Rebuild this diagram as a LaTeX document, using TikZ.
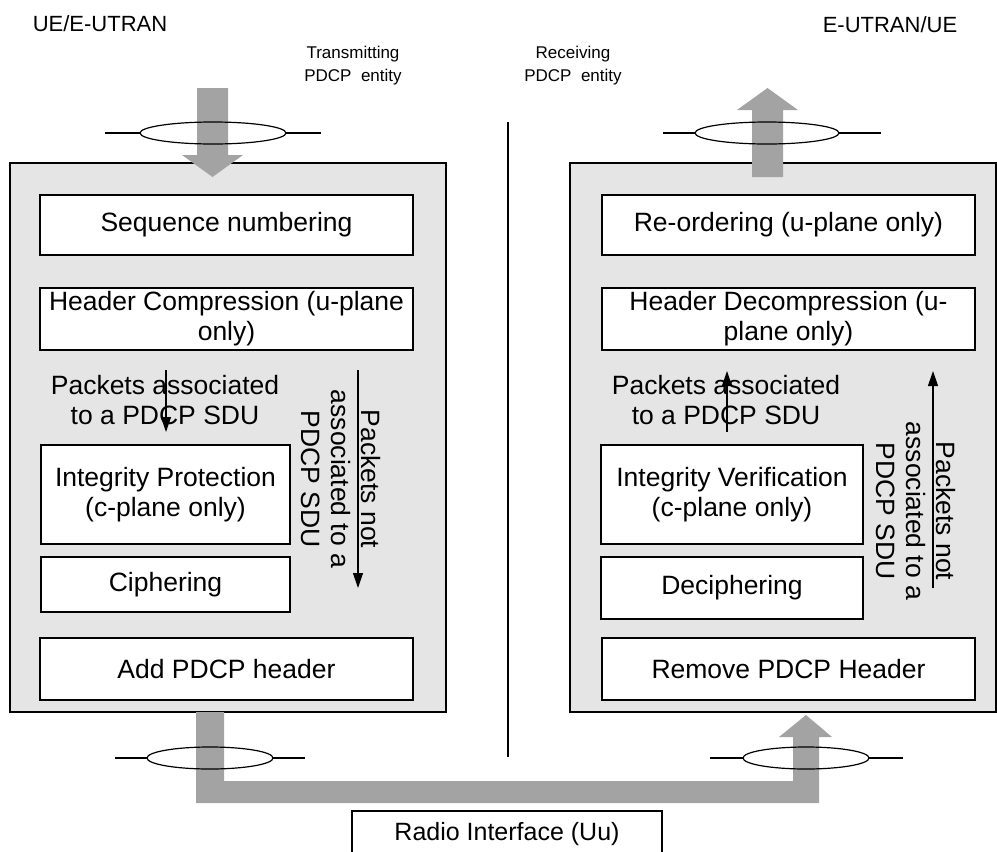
\documentclass[tikz,border=0pt]{standalone}
\usepackage{fontspec}
\setmainfont{Liberation Sans}
\usetikzlibrary{arrows.meta}
\begin{document}
\begin{tikzpicture}[x=1pt,y=-1pt,
  outer/.style={draw=black, fill=black!10, line width=1.2pt},
  blk/.style={draw=black, fill=white, line width=1.2pt, align=center, inner sep=0pt, font=\fontsize{26.5}{30}\selectfont},
  lbl/.style={align=center, inner sep=0pt, font=\fontsize{26.5}{30}\selectfont},
  hdr/.style={inner sep=0pt, font=\fontsize{22}{26}\selectfont},
  ent/.style={align=center, inner sep=0pt, font=\fontsize{17}{23}\selectfont},
  thinarrow/.style={line width=1.2pt, -{Triangle[length=15pt,width=10pt]}},
  fat/.style={fill=black!36, draw=none},
  ell/.style={draw=black, line width=1.2pt}]
\useasboundingbox (0,0) rectangle (997,852);

% outer entity boxes
\draw[outer] (10,163) rectangle (446,712);
\draw[outer] (570,163) rectangle (996,712);

% divider
\draw[line width=1.2pt] (508,122) -- (508,757);

% headers
\node[hdr] (ue) at (100,24) {UE/E-UTRAN};
\node[hdr] (eu) at (890,25) {E-UTRAN/UE};
\node[ent] (tx) at (353,66) {Transmitting\\PDCP\ \ entity};
\node[ent] (rx) at (573,66) {Receiving\\PDCP\ \ entity};

% left blocks
\node[blk, minimum width=373pt, minimum height=60pt] (seq) at (226.5,225) {Sequence numbering};
\node[blk, minimum width=373pt, minimum height=62pt] (hc) at (226.5,319) {Header Compression (u-plane\\only)};
\node[blk, minimum width=249pt, minimum height=99pt] (ip) at (165.5,494.5) {Integrity Protection\\(c-plane only)};
\node[blk, minimum width=249pt, minimum height=55pt] (ciph) at (165.5,584.5) {Ciphering};
\node[blk, minimum width=373pt, minimum height=62pt] (add) at (226.5,669) {Add PDCP header};

% right blocks
\node[blk, minimum width=373pt, minimum height=60pt] (reo) at (788.5,225) {Re-ordering (u-plane only)};
\node[blk, minimum width=373pt, minimum height=62pt] (hd) at (788.5,319) {Header Decompression (u-\\plane only)};
\node[blk, minimum width=262pt, minimum height=99pt] (iv) at (732,494.5) {Integrity Verification\\(c-plane only)};
\node[blk, minimum width=262pt, minimum height=62pt] (dec) at (732,588) {Deciphering};
\node[blk, minimum width=373pt, minimum height=62pt] (rem) at (788.5,669) {Remove PDCP Header};

% packet labels
\node[lbl] (pal) at (165,400) {Packets associated\\to a PDCP SDU};
\node[lbl] (par) at (726,400) {Packets associated\\to a PDCP SDU};
\node[lbl, rotate=-90] (pnl) at (341,479) {Packets not\\associated to a\\PDCP SDU};
\node[lbl, rotate=-90] (pnr) at (916,511) {Packets not\\associated to a\\PDCP SDU};

% thin arrows
\coordinate (a1s) at (166,370); \coordinate (a1e) at (166,432);
\coordinate (a2s) at (358,370); \coordinate (a2e) at (358,588);
\coordinate (a3s) at (727,432); \coordinate (a3e) at (727,371);
\coordinate (a4s) at (933,588); \coordinate (a4e) at (933,371);
\draw[thinarrow] (a1s) -- (a1e);
\draw[thinarrow] (a2s) -- (a2e);
\draw[thinarrow] (a3s) -- (a3e);
\draw[thinarrow] (a4s) -- (a4e);

% fat arrows
\fill[fat] (197,88) -- (228,88) -- (228,155) -- (243,155) -- (212.5,177) -- (182,155) -- (197,155) -- cycle;
\fill[fat] (752,177) -- (783,177) -- (783,110) -- (798,110) -- (767.5,88) -- (737,110) -- (752,110) -- cycle;
\fill[fat] (196,712) -- (224,712) -- (224,781) -- (793,781) -- (793,737) -- (779,737) -- (806,715) -- (832,737) -- (819,737) -- (819,803) -- (196,803) -- cycle;

% SAP ellipses
\draw[ell] (213,133) ellipse [x radius=73, y radius=11];
\draw[ell] (105,133) -- (140,133) (286,133) -- (321,133);
\draw[ell] (767,133) ellipse [x radius=72, y radius=11];
\draw[ell] (663,133) -- (695,133) (839,133) -- (881,133);
\draw[ell] (210,758) ellipse [x radius=63, y radius=11];
\draw[ell] (115,758) -- (147,758) (273,758) -- (305,758);
\draw[ell] (806,758) ellipse [x radius=63, y radius=11];
\draw[ell] (710,758) -- (743,758) (869,758) -- (903,758);

% radio interface
\node[inner sep=0pt, font=\fontsize{25}{29}\selectfont] (radio) at (507,834) {Radio Interface (Uu)};
\draw[line width=1.2pt] (352,853) -- (352,811) -- (662,811) -- (662,853);
\end{tikzpicture}
\end{document}
